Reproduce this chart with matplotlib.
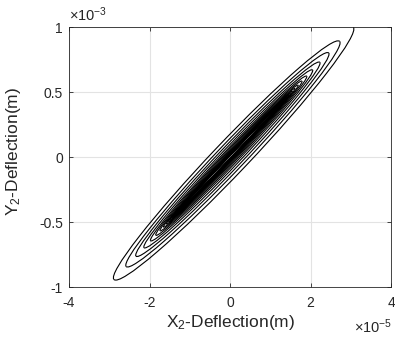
import numpy as np
import matplotlib.pyplot as plt
from matplotlib.patches import Arc
from matplotlib.transforms import Affine2D

plt.rcParams['font.family'] = 'Liberation Sans'
plt.rcParams['mathtext.fontset'] = 'custom'
plt.rcParams['mathtext.rm'] = 'Liberation Sans'
plt.rcParams['mathtext.it'] = 'Liberation Sans:italic'

# orbit, in units of (3e-5 m, 1e-3 m)
# tip distance along the orbit axis for each half turn (start point first)
tip_amp = [1.429, 1.346, 1.271, 1.204, 1.144, 1.090, 1.041, 0.997, 0.957, 0.921,
           0.889, 0.860, 0.834, 0.811, 0.790, 0.771, 0.754, 0.738, 0.724, 0.712,
           0.701, 0.691, 0.682, 0.673, 0.666, 0.660, 0.654, 0.648, 0.644, 0.639,
           0.635, 0.632, 0.629, 0.626, 0.623, 0.621, 0.619, 0.617, 0.615, 0.614,
           0.612]
# half width of the orbit across the axis for each half turn
half_width = [0.140, 0.127, 0.114, 0.103, 0.094, 0.085, 0.077, 0.070, 0.063, 0.057,
              0.052, 0.048, 0.043, 0.040, 0.036, 0.033, 0.030, 0.028, 0.026, 0.024,
              0.022, 0.020, 0.019, 0.017, 0.016, 0.015, 0.014, 0.013, 0.012, 0.011,
              0.011, 0.010, 0.009, 0.009, 0.008, 0.008, 0.008, 0.007, 0.007, 0.007]
axis_angle = 44.4
x_unit = 3e-5
y_unit = 1e-3

x_ticks = [-4, -2, 0, 2, 4]
y_ticks = [-1, -0.5, 0, 0.5, 1]

fig = plt.figure(figsize=(3.95, 3.42), dpi=100)
ax = fig.add_axes([0.1747, 0.1608, 0.8152, 0.7602])
orbit_tf = Affine2D().scale(x_unit, y_unit) + ax.transData

ca = np.cos(np.radians(axis_angle))
sa = np.sin(np.radians(axis_angle))
for k in range(len(half_width)):
    a0, a1 = tip_amp[k], tip_amp[k + 1]
    semi = (a0 + a1) / 2
    if k % 2 == 0:
        shift = (a0 - a1) / 2
        th1, th2 = 180, 360
    else:
        shift = (a1 - a0) / 2
        th1, th2 = 0, 180
    ax.add_patch(Arc((shift * ca, shift * sa), 2 * semi, 2 * half_width[k],
                     angle=axis_angle, theta1=th1, theta2=th2,
                     transform=orbit_tf, color='black', lw=0.8))

ax.set_xlim(-4e-5, 4e-5)
ax.set_ylim(-1e-3, 1e-3)
ax.set_xticks([t * 1e-5 for t in x_ticks], labels=[f'{t:g}' for t in x_ticks])
ax.set_yticks([t * 1e-3 for t in y_ticks], labels=[f'{t:g}' for t in y_ticks])
ax.tick_params(direction='in', length=3, top=True, right=True, labelsize=10,
               colors='#262626', width=0.6)
ax.tick_params(axis='x', pad=6.8)
ax.tick_params(axis='y', pad=4.3)
ax.grid(True, color='#e3e3e3', lw=0.8)
ax.set_axisbelow(True)
for s in ax.spines.values():
    s.set_color('#262626')
    s.set_linewidth(0.6)

ax.set_xlabel(r'X$_2$-Deflection(m)', fontsize=12.5, color='#262626')
ax.set_ylabel(r'Y$_2$-Deflection(m)', fontsize=12.5, color='#262626')
ax.xaxis.set_label_coords(0.5, -0.1)
ax.yaxis.set_label_coords(-0.143, 0.52)

ax.text(0.0, 1.01, r'$\times10^{-3}$', transform=ax.transAxes, fontsize=10.5,
        color='#262626', ha='left', va='bottom')
ax.text(1.003, -0.152, r'$\times10^{-5}$', transform=ax.transAxes, fontsize=10.5,
        color='#262626', ha='right', va='center')

plt.savefig('out.png', dpi=100)
